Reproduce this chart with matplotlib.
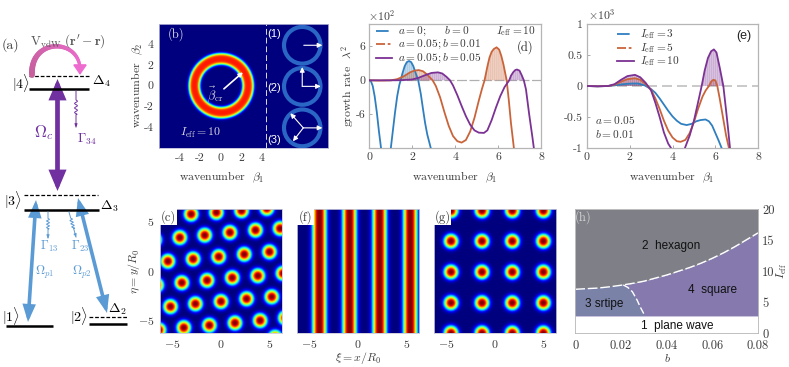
#!/usr/bin/env python3
import numpy as np
import matplotlib
matplotlib.use('Agg')
import matplotlib.pyplot as plt
from matplotlib.colors import to_rgb
from matplotlib.patches import FancyArrowPatch, Rectangle, Circle, Polygon

plt.rcParams['mathtext.fontset'] = 'cm'
plt.rcParams['font.family'] = ['Liberation Sans', 'DejaVu Sans']
plt.rcParams['hatch.linewidth'] = .3
TXT = '#3c3c3c'
BLUE, ORANGE, PURPLE = '#2f7fc0', '#c9643a', '#7b3294'
CM = 'cmr10'

# panel (d): growth rate, in units of 10^2
d_blue_x = [0, .08, .16, .25, .35, .45, .55, .65, .8, 1.0, 1.1, 1.2, 1.3, 1.4, 1.46, 1.55, 1.65, 1.75, 1.85, 1.95, 2.05, 2.15, 2.28, 2.4, 2.5, 2.6, 2.7, 2.87, 3.0]
d_blue_y = [0, -.2, -1, -2.8, -5.6, -9, -12, -15, -17, -12, -8.8, -5.6, -2.8, -.8, 0, 1.3, 2.5, 3.2, 3.4, 3.2, 2.5, 1.4, 0, -2.4, -5, -7.5, -9.5, -12, -14]
d_orange_x = [0, .5, 1, 1.3, 1.6, 1.9, 2.1, 2.3, 2.5, 2.7, 2.85, 2.95, 3.1, 3.3, 3.5, 3.7, 3.9, 4.1, 4.3, 4.5, 4.7, 4.9, 5.1, 5.25, 5.37, 5.5, 5.6, 5.7, 5.8, 5.93, 6.05, 6.15, 6.25, 6.4, 6.5, 6.6, 6.74, 6.9]
d_orange_y = [0, -.05, 0, .2, .7, 1.4, 1.7, 1.8, 1.6, 1, .4, 0, -1, -3, -5.6, -8, -9.8, -10.7, -10.95, -10.5, -9, -6.6, -3.6, -1.5, 0, 2.4, 4, 5, 5.5, 5.8, 5.4, 4.3, 2.8, 0, -3.5, -7.5, -12, -17]
d_purple_x = [0, 1, 1.5, 2, 2.3, 2.6, 2.9, 3.2, 3.4, 3.6, 3.76, 3.9, 4.1, 4.3, 4.5, 4.7, 4.9, 5.1, 5.34, 5.5, 5.7, 5.9, 6.1, 6.3, 6.52, 6.6, 6.7, 6.8, 6.88, 7.0, 7.1, 7.2, 7.3, 7.45, 7.6, 7.67, 7.8]
d_purple_y = [0, 0, .03, .15, .45, .9, 1.3, 1.4, 1.2, .6, 0, -.9, -2.6, -4.5, -6.3, -7.8, -8.8, -9.2, -9.25, -8.8, -7, -4.8, -2.8, -1.2, 0, .8, 1.4, 1.8, 1.9, 1.7, .9, 0, -1.6, -6, -10, -12, -16]

# panel (e): growth rate, in units of 10^3
e_blue_x = [0, .5, 1, 1.3, 1.7, 2.1, 2.4, 2.7, 3, 3.2, 3.4, 3.6, 3.8, 4, 4.2, 4.4, 4.66, 4.9, 5.1, 5.3, 5.54, 5.7, 5.85, 6, 6.15, 6.29, 6.45]
e_blue_y = [0, -.005, 0, .01, .03, .04, .04, .01, -.05, -.11, -.2, -.3, -.4, -.49, -.56, -.61, -.63, -.61, -.57, -.55, -.54, -.57, -.64, -.76, -.88, -1, -1.2]
e_orange_x = [0, .5, 1, 1.3, 1.6, 1.9, 2.25, 2.5, 2.75, 3, 3.2, 3.4, 3.6, 3.8, 4, 4.2, 4.38, 4.6, 4.8, 5, 5.2, 5.4, 5.55, 5.7, 5.8, 5.9, 6, 6.09, 6.2, 6.35, 6.5, 6.63, 6.8]
e_orange_y = [0, -.005, 0, .02, .07, .11, .125, .1, .03, -.06, -.2, -.37, -.56, -.72, -.83, -.89, -.9, -.87, -.76, -.58, -.36, -.17, -.07, 0, .07, .1, .09, 0, -.2, -.5, -.8, -1, -1.4]
e_purple_x = [0, .5, 1, 1.3, 1.6, 1.9, 2.25, 2.5, 2.75, 3, 3.2, 3.4, 3.6, 3.8, 3.93, 4.1, 4.25, 4.4, 4.58, 4.8, 5, 5.2, 5.36, 5.5, 5.65, 5.8, 5.93, 6.05, 6.2, 6.37, 6.5, 6.6, 6.68, 6.85]
e_purple_y = [0, -.005, 0, .03, .1, .16, .18, .14, .05, -.07, -.27, -.5, -.75, -.93, -1, -1.15, -1.2, -1.13, -1, -.8, -.56, -.25, 0, .25, .45, .56, .59, .54, .3, 0, -.4, -.72, -1, -1.5]

# panel (b): ring of unstable wavenumbers
ring_radius = 2.6
ring_width = .56
ring_peak = .88
circle_centers_y = [3.9, -.06, -4.06]
circle_label_y = [4.95, -.2, -5.2]
circle_x = 7.9
circle_r = 1.77
mode_arrows = [[(8.05, 3.9, 9.85, 3.9)],
               [(7.9, -.06, 9.7, -.06), (7.9, -.06, 7.9, 1.8)],
               [(8.0, -4.06, 9.85, -4.06), (8.0, -4.06, 6.75, -2.65), (8.0, -4.06, 7.0, -5.35)]]

# panels (c), (f), (g): peak positions
hex_x = [-3.08, -.48, 2.12, 4.73, -6.85, -4.25, -1.68, .92, 3.56, 6.1, -5.48, -2.88, -.24, 2.4, 5.0, -6.64, -4.04, -1.44, 1.16, 3.8, 6.4, -5.21, -2.64, 0, 2.64, 5.24, -6.4, -3.84, -1.2, 1.44, 4.04, 6.64, 5.58]
hex_y = [5.78, 5.95, 6.12, 6.36, 3.16, 3.4, 3.64, 3.91, 4.15, 4.32, .99, 1.22, 1.46, 1.7, 1.94, -1.43, -1.19, -.95, -.68, -.48, -.24, -3.61, -3.33, -3.1, -2.82, -2.62, -5.99, -5.75, -5.51, -5.27, -5.03, -4.76, -6.73]
stripe_x = [-4.0, -.92, 2.16, 5.3]
square_x = [-4.55, -1.38, 1.72, 4.9]
square_y = [6.12, 3.03, -.1, -3.23, -6.3]
spot_width = .7
map_lim = 6.28

# panel (h): phase boundaries
hex_edge_b = [0, .005, .01, .015, .02, .025, .03, .035, .04, .045, .05, .055, .06, .065, .07, .075, .08]
hex_edge_i = [7.1, 7.2, 7.3, 7.5, 7.75, 8.05, 8.4, 8.9, 9.4, 10, 10.6, 11.3, 12.1, 13, 14, 15.1, 16.2]
stripe_edge_b = [.021, .023, .025, .027, .0285, .0305]
stripe_edge_i = [7.8, 7.4, 6.7, 5.4, 4.2, 2.8]
plane_top = 2.8


def px_axes(fig, left, top, right, bottom):
    return fig.add_axes([left / 789, 1 - bottom / 367, (right - left) / 789, (bottom - top) / 367])


def style(ax, color='#b5b5b5'):
    for s in ax.spines.values():
        s.set_color(color)
        s.set_linewidth(.9)
    ax.tick_params(direction='in', length=2, width=.5, color='#888888', labelsize=8.5, labelcolor=TXT, pad=3)
    cm_ticks(ax)


def cm_ticks(ax):
    # plain tick strings in computer modern so that negatives keep the short hyphen
    for lab in ax.get_xticklabels() + ax.get_yticklabels():
        lab.set_family(CM)


def math_labels(vals):
    return ['$%s$' % v for v in vals]


def spot_profile(dist):
    return np.exp(-(dist / spot_width) ** 2.7)


def jet_map(ax, z):
    ax.imshow(z, origin='lower', cmap='jet', vmin=0, vmax=1, aspect='auto', interpolation='bilinear',
              extent=(-map_lim, map_lim, -map_lim, map_lim))
    ax.set_xticks([-5, 0, 5], math_labels(['-5', '0', '5']))
    ax.tick_params(length=0, labelsize=8.5, labelcolor=TXT, pad=4)
    for s in ax.spines.values():
        s.set_color('#c8c8d8')
        s.set_linewidth(.6)


def label_box(ax, name):
    ax.add_patch(Rectangle((0, .87), .14, .13, transform=ax.transAxes, fc='white', ec='none', zorder=5))
    ax.text(.07, .935, name, transform=ax.transAxes, ha='center', va='center', fontsize=9, color=TXT,
            family=CM, zorder=6)


def growth_panel(ax, curves):
    for xs, ys, c in curves:
        xs = np.array(xs)
        ys = np.array(ys)
        ax.plot(xs, ys, color=c, ls='-', lw=1.3, zorder=3)
        ax.fill_between(xs, ys, 0, where=ys >= 0, color=c, alpha=.3, lw=0, interpolate=True, zorder=2)
        ax.fill_between(xs, ys, 0, where=ys >= 0, facecolor='none', edgecolor=c, alpha=.3, lw=0, hatch='||||||||',
                        interpolate=True, zorder=2)


def legend_rows(ax, rows, x0, x1, xt, ys):
    for (name, c, ls), y in zip(rows, ys):
        ax.plot([x0, x1], [y, y], color=c, ls=ls, lw=1.3, transform=ax.transAxes, zorder=4, clip_on=False)
        ax.text(xt, y, name, transform=ax.transAxes, fontsize=8.2, va='center', color=TXT, zorder=4)


fig = plt.figure(figsize=(7.89, 3.67), dpi=100)

# level scheme drawn in figure pixels
ax0 = fig.add_axes([0, 0, 1, 1])
ax0.set_xlim(0, 789)
ax0.set_ylim(367, 0)
ax0.axis('off')

solid_levels = [(29, 89, 89), (24, 99, 210), (6, 53, 326), (89, 127, 323.5)]
dashed_levels = [(29, 89, 75.7), (24, 98, 194.5), (89, 127, 316.7)]
for x0, x1, y in solid_levels:
    ax0.plot([x0, x1], [y, y], color='k', lw=1.8, solid_capstyle='butt')
for x0, x1, y in dashed_levels:
    ax0.plot([x0, x1], [y, y], color='k', lw=.9, ls=(0, (3, 1.5)))


def arrow(p0, p1, c, lw, style_name, scale=1):
    ax0.add_patch(FancyArrowPatch(p0, p1, arrowstyle=style_name, mutation_scale=scale, color=c, lw=lw,
                                  shrinkA=0, shrinkB=0, joinstyle='miter'))


arrow((57.5, 79), (57.5, 191), '#7030a0', 3.4, '<|-|>,head_length=.85,head_width=.36', 11)
arrow((36, 200), (28, 322), '#5b9bd5', 2.6, '<|-|>,head_length=.8,head_width=.3', 10)
arrow((78, 198), (107, 313), '#5b9bd5', 2.6, '<|-|>,head_length=.8,head_width=.3', 10)

# van der Waals arc, mauve to pink and tapering towards the head
arc_x = [32, 30, 78, 80]
arc_y = [75, 38, 38, 68]
arc_from, arc_to = np.array(to_rgb('#c65f9c')), np.array(to_rgb('#ee6cd0'))
ts = np.linspace(0, 1, 41)
bx_arc = sum(c * w for c, w in zip(arc_x, [(1 - ts) ** 3, 3 * ts * (1 - ts) ** 2, 3 * ts ** 2 * (1 - ts), ts ** 3]))
by_arc = sum(c * w for c, w in zip(arc_y, [(1 - ts) ** 3, 3 * ts * (1 - ts) ** 2, 3 * ts ** 2 * (1 - ts), ts ** 3]))
for i in range(len(ts) - 1):
    ax0.plot(bx_arc[i:i + 2], by_arc[i:i + 2], color=arc_from + (arc_to - arc_from) * ts[i], lw=4.2 - 2 * ts[i], solid_capstyle='round')
arrow((bx_arc[-1], by_arc[-1] - 1), (80, 75), '#ee6cd0', 1, '-|>,head_length=.8,head_width=.55', 8)


def wiggle(x0, y0, x1, y1, c):
    # wavy decay line with arrowhead, wiggle in the middle third
    t = np.linspace(0, 1, 120)
    amp = 1.4 * ((t > .25) & (t < .65))
    xs = x0 + (x1 - x0) * t + amp * np.sin(t * 50)
    ys = y0 + (y1 - y0) * t
    ax0.plot(xs, ys, color=c, lw=.7)
    ax0.add_patch(FancyArrowPatch((xs[-8], ys[-8]), (x1, y1), arrowstyle='-|>', mutation_scale=4, color=c, lw=.7,
                                  shrinkA=0, shrinkB=0))


wiggle(76, 91, 76, 127, '#7030a0')
wiggle(48, 212, 48, 238, '#5b9bd5')
wiggle(69, 212, 76, 237, '#5b9bd5')

scheme_text = [(2, 45, '(a)', TXT, 10), (30, 41, r"$\mathrm{V}_{\mathrm{vdW}}\ (\mathbf{r}'-\mathbf{r})$", '#555555', 9.5),
               (12, 83, r'$|4\rangle$', 'k', 10), (4, 200, r'$|3\rangle$', 'k', 10),
               (2, 316, r'$|1\rangle$', 'k', 10), (70, 316, r'$|2\rangle$', 'k', 10),
               (92, 81, r'$\Delta_4$', 'k', 10), (100, 206, r'$\Delta_3$', 'k', 10),
               (108, 309, r'$\Delta_2$', 'k', 10),
               (34, 133, r'$\Omega_c$', '#7030a0', 12), (77, 139, r'$\Gamma_{34}$', '#7030a0', 9.5),
               (40, 246, r'$\Gamma_{13}$', '#5b9bd5', 9), (71, 246, r'$\Gamma_{23}$', '#5b9bd5', 9),
               (35, 272, r'$\Omega_{p1}$', '#5b9bd5', 9), (72, 272, r'$\Omega_{p2}$', '#5b9bd5', 9)]
for x, y, s, c, fs in scheme_text:
    ax0.text(x, y, s, color=c, fontsize=fs, ha='left', va='center', family=CM)

# outer axis labels
outer_text = [(222, 177, r'wavenumber  $\beta_1$', 0), (455, 177, r'wavenumber  $\beta_1$', 0),
              (672, 177, r'wavenumber  $\beta_1$', 0), (137, 85, r'wavenumber  $\beta_2$', 90),
              (348, 86, r'growth rate  $\lambda^2$', 90), (134, 271, r'$\eta = y/R_0$', 90),
              (358, 358, r'$\xi = x/R_0$', 0), (667, 358, r'$b$', 0), (782, 271, r'$I_{\mathrm{eff}}$', 90),
              (382, 16, r'$\times 10^2$', 0), (602, 15, r'$\times 10^3$', 0)]
for x, y, s, rot in outer_text:
    ax0.text(x, y, s, color=TXT, fontsize=8.5, ha='center', va='center', rotation=rot, family=CM)

# (b)
ax = px_axes(fig, 159, 24, 328, 148)
bx = np.linspace(-6, 10.4, 500)
by = np.linspace(-6, 5.95, 400)
gx, gy = np.meshgrid(bx, by)
r = np.hypot(gx, gy)
z = ring_peak * np.exp(-((r - ring_radius) / ring_width) ** 4)
ax.imshow(z, origin='lower', cmap='jet', vmin=0, vmax=1, aspect='auto', extent=(-6, 10.4, -6, 5.95))
ax.axvline(4.42, color='#dddddd', lw=.7, ls=(0, (6, 3)))
for cy, arrows in zip(circle_centers_y, mode_arrows):
    ax.add_patch(Circle((circle_x, cy), circle_r, fc='none', ec='#2a66c4', lw=3))
    for x0, y0, x1, y1 in arrows:
        ax.add_patch(FancyArrowPatch((x0, y0), (x1, y1), arrowstyle='-|>', mutation_scale=7, color='white', lw=.8, shrinkA=0, shrinkB=0))
ax.add_patch(FancyArrowPatch((.3, -.3), (2.15, 1.3), arrowstyle='-|>', mutation_scale=6, color='white', lw=1.2, shrinkA=0, shrinkB=0))
ax.text(-.55, -.8, r'$\vec{\beta}_{\mathrm{cr}}$', color='#dddddd', fontsize=9, ha='center', va='center')
ax.text(-4.3, 5.0, '(b)', color='#dddddd', fontsize=9, family=CM, va='center', ha='center')
ax.text(-2.0, -4.55, r'$I_{\mathrm{eff}}=10$', color='#dddddd', fontsize=8.5, ha='center', va='center')
for y, s in zip(circle_label_y, ['(1)', '(2)', '(3)']):
    ax.text(5.15, y, s, color='white', fontsize=8, ha='center', va='center')
ax.set_xticks([-4, -2, 0, 2, 4], ['-4', '-2', '0', '2', '4'])
ax.set_yticks([-4, -2, 0, 2, 4], ['-4', '-2', '0', '2', '4'])
ax.tick_params(length=0, labelsize=8.5, labelcolor=TXT, pad=4)
cm_ticks(ax)
for s in ax.spines.values():
    s.set_color('#b8b8d8')
    s.set_linewidth(.6)

# (d)
ax = px_axes(fig, 369.3, 24, 541, 148)
growth_panel(ax, [(d_blue_x, d_blue_y, BLUE), (d_orange_x, d_orange_y, ORANGE), (d_purple_x, d_purple_y, PURPLE)])
ax.axhline(0, color='#b0b0b0', lw=.9, ls=(0, (8, 2)), zorder=1)
ax.set_xlim(0, 8)
ax.set_ylim(-11.9, 9.9)
ax.set_xticks([0, 2, 4, 6, 8], ['0', '2', '4', '6', '8'])
ax.set_yticks([-6, 0, 6], ['-6', '0', '6'])
style(ax)
legend_rows(ax, [(r'$a=0;\ \ \ \ \ b=0$', BLUE, (0, (7, 4))), (r'$a=0.05; b=0.01$', ORANGE, (0, (5, 1.5, 1.5, 1.5))), (r'$a=0.05; b=0.05$', PURPLE, '-')],
            .04, .135, .165, [.943, .836, .722])
ax.text(.97, .943, r'$I_{\mathrm{eff}}=10$', transform=ax.transAxes, ha='right', va='center', fontsize=8.2, color=TXT)
ax.text(.91, .815, '(d)', transform=ax.transAxes, ha='center', va='center', fontsize=9, color='#222222', family=CM)

# (e)
ax = px_axes(fig, 586.7, 24, 758.3, 148)
growth_panel(ax, [(e_blue_x, e_blue_y, BLUE), (e_orange_x, e_orange_y, ORANGE), (e_purple_x, e_purple_y, PURPLE)])
ax.axhline(0, color='#c0c0c0', lw=1.2, ls=(0, (6, 3)), zorder=1)
ax.set_xlim(0, 8)
ax.set_ylim(-1, 1)
ax.set_xticks([0, 2, 4, 6, 8], ['0', '2', '4', '6', '8'])
ax.set_yticks([-1, -.5, 0, .5, 1], ['-1', '-0.5', '0', '0.5', '1'])
style(ax)
legend_rows(ax, [(r'$I_{\mathrm{eff}}=3$', BLUE, (0, (7, 4))), (r'$I_{\mathrm{eff}}=5$', ORANGE, (0, (5, 1.5, 1.5, 1.5))), (r'$I_{\mathrm{eff}}=10$', PURPLE, '-')],
            .175, .275, .31, [.92, .81, .705])
ax.text(.05, .225, r'$a=0.05$', transform=ax.transAxes, va='center', fontsize=8.2, color=TXT)
ax.text(.05, .115, r'$b=0.01$', transform=ax.transAxes, va='center', fontsize=8.2, color=TXT)
ax.text(.915, .905, '(e)', transform=ax.transAxes, ha='center', va='center', fontsize=9, color='#222222')

# (c), (f), (g)
mx = np.linspace(-map_lim, map_lim, 400)
gx, gy = np.meshgrid(mx, mx)

ax = px_axes(fig, 160, 209.3, 282, 333.3)
z = np.zeros_like(gx)
for px, py in zip(hex_x, hex_y):
    z += spot_profile(np.hypot(gx - px, gy - py))
jet_map(ax, z)
ax.set_yticks([-5, 0, 5], math_labels(['-5', '0', '5']))
label_box(ax, '(c)')

ax = px_axes(fig, 296.7, 209.3, 419, 333.3)
z = np.zeros_like(gx)
for px in stripe_x:
    z += spot_profile(np.abs(gx - px))
jet_map(ax, z)
ax.set_yticks([])
label_box(ax, '(f)')

ax = px_axes(fig, 434, 209.3, 556.3, 333.3)
z = np.zeros_like(gx)
for px in square_x:
    for py in square_y:
        z += spot_profile(np.hypot(gx - px, gy - py))
jet_map(ax, z)
ax.set_yticks([])
label_box(ax, '(g)')

# (h)
ax = px_axes(fig, 575.3, 209.3, 758, 333.3)
ax.set_xlim(0, .08)
ax.set_ylim(0, 20)
ax.fill_between(hex_edge_b, hex_edge_i, 20, color='#7f8087', lw=0)
ax.fill_between(hex_edge_b, plane_top, hex_edge_i, color='#8579ae', lw=0)
stripe_poly = list(zip(hex_edge_b[:5], hex_edge_i[:5])) + list(zip(stripe_edge_b, stripe_edge_i)) + [(0, plane_top)]
ax.add_patch(Polygon(stripe_poly, closed=True, fc='#7a82a8', ec='none'))
ax.plot(hex_edge_b, hex_edge_i, color='white', lw=1, ls=(0, (7, 2)))
ax.plot(stripe_edge_b, stripe_edge_i, color='white', lw=1, ls=(0, (5, 2)))
ax.text(.0418, 14.1, '2  hexagon', ha='center', va='center', fontsize=8.5, color='#111111')
ax.text(.0599, 7.0, '4  square', ha='center', va='center', fontsize=8.5, color='#111111')
ax.text(.0126, 4.8, '3 srtipe', ha='center', va='center', fontsize=8.5, color='#111111')
ax.text(.0447, 1.25, '1  plane wave', ha='center', va='center', fontsize=8.5, color='#111111')
ax.text(.0034, 18.7, '(h)', ha='center', va='center', fontsize=9, color='#d5d5d5', family=CM)
ax.set_xticks([0, .02, .04, .06, .08], ['0', '0.02', '0.04', '0.06', '0.08'])
ax.set_yticks([0, 5, 10, 15, 20], ['0', '5', '10', '15', '20'])
ax.yaxis.tick_right()
ax.tick_params(length=0, labelsize=9, labelcolor=TXT)
ax.tick_params(axis='x', pad=5)
ax.tick_params(axis='y', pad=3)
cm_ticks(ax)
for s in ax.spines.values():
    s.set_color('#b5b5b5')
    s.set_linewidth(.6)

fig.savefig('out.png', dpi=100)
